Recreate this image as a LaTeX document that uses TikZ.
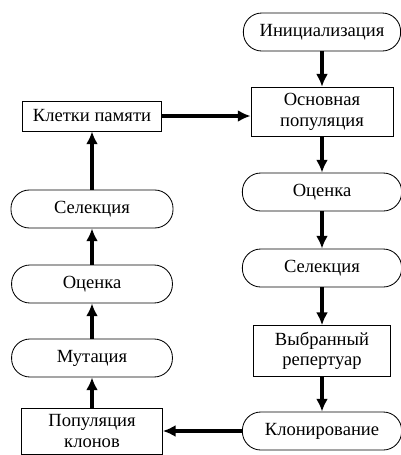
\documentclass[tikz,border=0pt]{standalone}
\usepackage{fontspec}
\setmainfont{Liberation Serif}
\usetikzlibrary{arrows.meta}

\begin{document}
\begin{tikzpicture}[x=0.025cm,y=-0.025cm,
  font=\fontsize{13.2}{14.6}\selectfont,
  term/.style={draw,line width=0.6pt,rounded corners=0.46cm,minimum height=0.95cm,inner sep=0pt},
  blk/.style={draw,line width=0.6pt,align=center,inner sep=0pt},
  arr/.style={line width=2.7pt,-{Latex[length=0.32cm,width=0.3cm]}}]
\useasboundingbox (0,0) rectangle (401,455);
% right column
\node[term,minimum width=3.93cm] (i) at (322,32) {Инициализация};
\node[blk,minimum width=3.55cm,minimum height=1.24cm] (p) at (322,112) {Основная\\популяция};
\node[term,minimum width=3.98cm] (o) at (322,192) {Оценка};
\node[term,minimum width=3.98cm] (s) at (322,268) {Селекция};
\node[blk,minimum width=3.43cm,minimum height=1.27cm] (r) at (322,351) {Выбранный\\репертуар};
\node[term,minimum width=3.98cm] (k) at (322,431) {Клонирование};
% left column
\node[blk,minimum width=3.48cm,minimum height=0.75cm] (m) at (92,116) {Клетки памяти};
\node[term,minimum width=4.05cm] (s2) at (92,209) {Селекция};
\node[term,minimum width=4.02cm] (o2) at (92,284) {Оценка};
\node[term,minimum width=4.02cm] (u) at (92,358) {Мутация};
\node[blk,minimum width=3.52cm,minimum height=1.15cm] (c) at (92,431) {Популяция\\клонов};
\draw[arr] (i) -- (p);
\draw[arr] (p) -- (o);
\draw[arr] (o) -- (s);
\draw[arr] (s) -- (r);
\draw[arr] (r) -- (k);
\draw[arr] (k) -- (c);
\draw[arr] (c) -- (u);
\draw[arr] (u) -- (o2);
\draw[arr] (o2) -- (s2);
\draw[arr] (s2) -- (m);
\draw[arr] (m) -- (m -| p.west);
\end{tikzpicture}
\end{document}
